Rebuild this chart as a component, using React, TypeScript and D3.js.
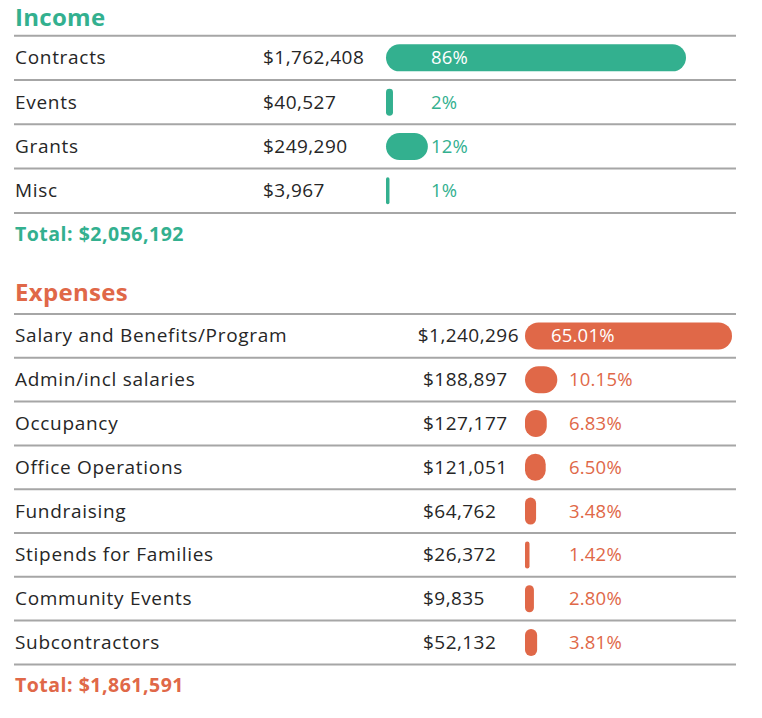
import React, { useEffect, useRef } from "react";
import * as d3 from "d3";

const incomeCategories = ["Contracts", "Events", "Grants", "Misc"];
const incomeAmounts = ["$1,762,408", "$40,527", "$249,290", "$3,967"];
const incomePercents = [86, 2, 12, 1];
const incomeTotal = "$2,056,192";

const expenseCategories = [
  "Salary and Benefits/Program",
  "Admin/incl salaries",
  "Occupancy",
  "Office Operations",
  "Fundraising",
  "Stipends for Families",
  "Community Events",
  "Subcontractors",
];
const expenseAmounts = [
  "$1,240,296",
  "$188,897",
  "$127,177",
  "$121,051",
  "$64,762",
  "$26,372",
  "$9,835",
  "$52,132",
];
const expensePercents = [65.01, 10.15, 6.83, 6.5, 3.48, 1.42, 2.8, 3.81];
const expenseTotal = "$1,861,591";

const GREEN = "#33b08f";
const ORANGE = "#e06848";
const FONT = "'Open Sans', Lato, sans-serif";

interface Section {
  title: string;
  color: string;
  cats: string[];
  amounts: string[];
  pcts: number[];
  total: string;
  fmt: (n: number) => string;
  titleY: number;
  firstLine: number;
  rowH: number;
  valueX: number;
  barX: number;
  barMaxW: number;
  insideX: number;
  outsideX: number;
}

export default function App() {
  const ref = useRef<SVGSVGElement>(null);

  useEffect(() => {
    const svg = d3.select(ref.current);
    svg.selectAll("*").remove();

    const sections: Section[] = [
      {
        title: "Income",
        color: GREEN,
        cats: incomeCategories,
        amounts: incomeAmounts,
        pcts: incomePercents,
        total: incomeTotal,
        fmt: (n) => d3.format("d")(n) + "%",
        titleY: 26,
        firstLine: 35.7,
        rowH: 44.3,
        valueX: 263,
        barX: 386,
        barMaxW: 300,
        insideX: 431,
        outsideX: 431,
      },
      {
        title: "Expenses",
        color: ORANGE,
        cats: expenseCategories,
        amounts: expenseAmounts,
        pcts: expensePercents,
        total: expenseTotal,
        fmt: (n) => d3.format(".2f")(n) + "%",
        titleY: 301,
        firstLine: 314,
        rowH: 43.8,
        valueX: 423,
        barX: 525,
        barMaxW: 207,
        insideX: 551,
        outsideX: 569,
      },
    ];

    const lineX0 = 14;
    const lineX1 = 736;
    const barH = 27;

    sections.forEach((s) => {
      const g = svg.append("g");
      const n = s.cats.length;
      const y = d3
        .scaleBand<number>()
        .domain(d3.range(n))
        .range([s.firstLine, s.firstLine + s.rowH * n])
        .padding(0);
      const x = d3
        .scaleLinear()
        .domain([0, d3.max(s.pcts) as number])
        .range([0, s.barMaxW]);

      g.append("text")
        .attr("x", 15)
        .attr("y", s.titleY)
        .attr("fill", s.color)
        .attr("font-family", FONT)
        .attr("font-weight", 700)
        .attr("font-size", 24)
        .attr("letter-spacing", 0.3)
        .text(s.title);

      g.selectAll("line.sep")
        .data(d3.range(n + 1))
        .join("line")
        .attr("x1", lineX0)
        .attr("x2", lineX1)
        .attr("y1", (i) => s.firstLine + i * s.rowH)
        .attr("y2", (i) => s.firstLine + i * s.rowH)
        .attr("stroke", "#a6a6a6")
        .attr("stroke-width", 2);

      const rows = g
        .selectAll("g.row")
        .data(d3.range(n))
        .join("g")
        .attr("transform", (i) => `translate(0,${(y(i) as number) + y.bandwidth() / 2})`);

      rows
        .append("text")
        .attr("x", 15)
        .attr("y", 6.5)
        .attr("fill", "#262626")
        .attr("font-family", FONT)
        .attr("font-size", 19)
        .attr("letter-spacing", 0.7)
        .text((i) => s.cats[i]);

      rows
        .append("text")
        .attr("x", s.valueX)
        .attr("y", 6.5)
        .attr("fill", "#262626")
        .attr("font-family", FONT)
        .attr("font-size", 19)
        .attr("letter-spacing", 0.45)
        .text((i) => s.amounts[i])
        .each(function () {
          const el = this as SVGTextElement;
          const w = el.getComputedTextLength();
          if (s.valueX + w > s.barX - 6) {
            d3.select(el).attr("x", s.barX - 6 - w);
          }
        });

      rows
        .append("rect")
        .attr("x", s.barX)
        .attr("y", -barH / 2)
        .attr("width", (i) => x(s.pcts[i]))
        .attr("height", barH)
        .attr("rx", (i) => Math.min(barH, x(s.pcts[i])) / 2)
        .attr("ry", (i) => Math.min(barH, x(s.pcts[i])) / 2)
        .attr("fill", s.color);

      rows
        .append("text")
        .attr("y", 6.5)
        .attr("font-family", FONT)
        .attr("font-size", 18.5)
        .attr("letter-spacing", 0.2)
        .text((i) => s.fmt(s.pcts[i]))
        .each(function (i) {
          const el = this as SVGTextElement;
          const w = el.getComputedTextLength();
          const end = s.barX + x(s.pcts[i]);
          const inside = s.insideX + w + 8 < end;
          d3.select(el)
            .attr("x", inside ? s.insideX : s.outsideX)
            .attr("fill", inside ? "#ffffff" : s.color);
        });

      g.append("text")
        .attr("x", 15)
        .attr("y", s.firstLine + n * s.rowH + 28)
        .attr("fill", s.color)
        .attr("font-family", FONT)
        .attr("font-weight", 700)
        .attr("font-size", 19.5)
        .attr("letter-spacing", 0.5)
        .text("Total: " + s.total);
    });
  }, []);

  return (
    <svg
      ref={ref}
      width={762}
      height={718}
      style={{ position: "absolute", left: 0, top: 0, background: "#ffffff" }}
    />
  );
}
